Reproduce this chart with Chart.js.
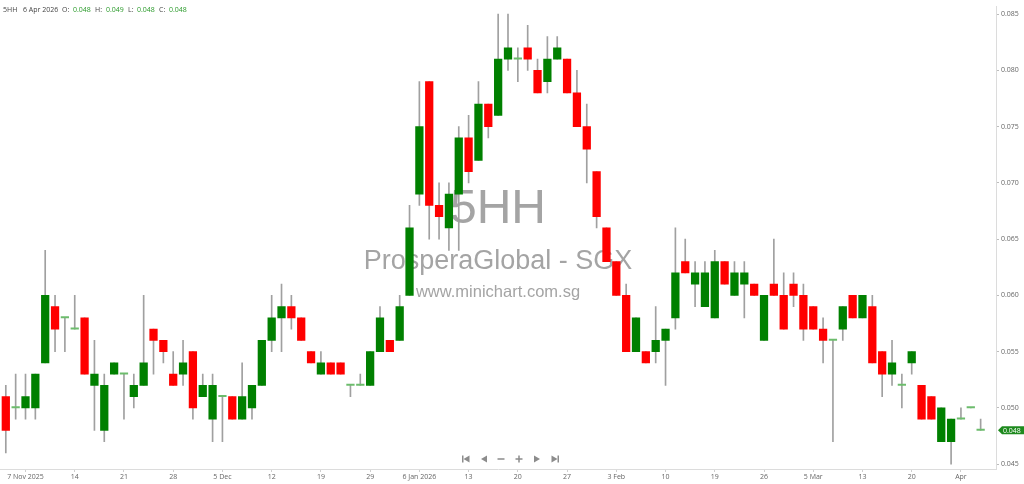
<!DOCTYPE html>
<html><head><meta charset="utf-8">
<script src="https://cdn.jsdelivr.net/npm/chart.js@4.4.1/dist/chart.umd.min.js"></script>
<style>html,body{margin:0;padding:0;background:#fff;overflow:hidden}canvas{display:block}</style>
</head><body>
<canvas id="c" width="1024" height="484"></canvas>
<script>
const symbol = "5HH";
const title = "ProsperaGlobal - SGX";
const site = "www.minichart.com.sg";
const lastDate = "6 Apr 2026";

const opens = [0.051,0.050,0.050,0.050,0.054,0.059,0.058,0.057,0.058,0.052,
0.048,0.053,0.053,0.051,0.052,0.057,0.056,0.053,0.053,0.055,
0.051,0.049,0.051,0.051,0.049,0.050,0.052,0.056,0.058,0.059,
0.058,0.055,0.053,0.054,0.054,0.052,0.052,0.052,0.055,0.056,
0.056,0.060,0.069,0.079,0.068,0.066,0.069,0.074,0.072,0.077,
0.076,0.081,0.081,0.082,0.080,0.079,0.081,0.081,0.078,0.075,
0.071,0.066,0.063,0.060,0.055,0.055,0.055,0.056,0.058,0.063,
0.061,0.059,0.058,0.063,0.060,0.061,0.061,0.056,0.061,0.060,
0.061,0.060,0.059,0.057,0.056,0.057,0.060,0.058,0.059,0.055,
0.053,0.052,0.054,0.052,0.051,0.047,0.047,0.049,0.050,0.048];
const highs = [0.052,0.053,0.053,0.053,0.064,0.060,0.058,0.060,0.058,0.056,
0.053,0.054,0.053,0.053,0.060,0.057,0.056,0.055,0.056,0.055,
0.053,0.053,0.051,0.051,0.054,0.052,0.056,0.060,0.061,0.060,
0.058,0.055,0.055,0.054,0.054,0.052,0.053,0.055,0.059,0.056,
0.060,0.068,0.079,0.079,0.070,0.070,0.075,0.076,0.079,0.077,
0.085,0.085,0.082,0.084,0.081,0.083,0.083,0.081,0.080,0.077,
0.071,0.066,0.063,0.061,0.058,0.055,0.059,0.057,0.066,0.065,
0.063,0.063,0.064,0.063,0.063,0.063,0.061,0.060,0.065,0.062,
0.062,0.061,0.059,0.058,0.056,0.059,0.060,0.060,0.060,0.055,
0.056,0.053,0.055,0.052,0.051,0.050,0.049,0.050,0.050,0.049];
const lows = [0.046,0.049,0.049,0.049,0.054,0.055,0.055,0.057,0.053,0.048,
0.047,0.053,0.049,0.050,0.052,0.053,0.054,0.052,0.052,0.049,
0.051,0.047,0.047,0.049,0.049,0.049,0.052,0.055,0.055,0.057,
0.056,0.054,0.053,0.053,0.053,0.051,0.052,0.052,0.055,0.055,
0.056,0.060,0.068,0.065,0.065,0.064,0.064,0.070,0.072,0.074,
0.076,0.080,0.079,0.080,0.078,0.078,0.081,0.078,0.075,0.070,
0.066,0.063,0.060,0.055,0.055,0.054,0.054,0.052,0.057,0.062,
0.059,0.059,0.058,0.061,0.060,0.058,0.060,0.056,0.060,0.057,
0.059,0.056,0.057,0.054,0.047,0.056,0.058,0.058,0.054,0.051,
0.052,0.050,0.053,0.049,0.049,0.047,0.045,0.049,0.050,0.048];
const closes = [0.048,0.050,0.051,0.053,0.060,0.057,0.058,0.057,0.053,0.053,
0.052,0.054,0.053,0.052,0.054,0.056,0.055,0.052,0.054,0.050,
0.052,0.052,0.051,0.049,0.051,0.052,0.056,0.058,0.059,0.058,
0.056,0.054,0.054,0.053,0.053,0.052,0.052,0.055,0.058,0.055,
0.059,0.066,0.075,0.068,0.067,0.069,0.074,0.071,0.077,0.075,
0.081,0.082,0.081,0.081,0.078,0.081,0.082,0.078,0.075,0.073,
0.067,0.063,0.060,0.055,0.058,0.054,0.056,0.057,0.062,0.062,
0.062,0.062,0.063,0.061,0.062,0.062,0.060,0.060,0.060,0.057,
0.060,0.057,0.057,0.056,0.056,0.059,0.058,0.060,0.054,0.053,
0.054,0.052,0.055,0.049,0.049,0.050,0.049,0.049,0.050,0.048];

const tickIndex = [2,7,12,17,22,27,32,37,42,47,52,57,62,67,72,77,82,87,92,97];
const tickLabels = ["7 Nov 2025","14","21","28","5 Dec","12","19","29","6 Jan 2026","13",
"20","27","3 Feb","10","19","26","5 Mar","13","20","Apr"];
const yTicks = [0.045,0.050,0.055,0.060,0.065,0.070,0.075,0.080,0.085];

const UP = '#008000', DOWN = '#ff0000', FLAT = '#6cbc6c', WICK = '#a0a0a0';
const candleColor = (i) => closes[i] > opens[i] ? UP : (closes[i] < opens[i] ? DOWN : FLAT);

const bodies = opens.map((o, i) => ({x: i, y: [o, closes[i]]}));
const wicks = opens.map((o, i) => ({x: i, y: [lows[i], highs[i]]}));

const FONT = '"Open Sans", "DejaVu Sans", sans-serif';

const decor = {
  id: 'decor',
  beforeDatasetsDraw(chart) {
    const {ctx, chartArea: a} = chart;
    const cx = (a.left + a.right) / 2, cy = (a.top + a.bottom) / 2;
    ctx.save();
    ctx.fillStyle = '#a4a4a4';
    ctx.textAlign = 'center';
    ctx.textBaseline = 'alphabetic';
    ctx.font = '48px "Liberation Sans", Arial, sans-serif';
    ctx.fillText(symbol, cx, cy - 14.5);
    ctx.font = '27px "Liberation Sans", Arial, sans-serif';
    ctx.fillText(title, cx, cy + 31.5);
    ctx.font = '16.5px "Liberation Sans", Arial, sans-serif';
    ctx.fillText(site, cx, cy + 59.5);
    // navigation icons
    ctx.fillStyle = '#8c8c8c';
    const ny = a.bottom - 10;
    const tri = (x, dir) => { ctx.beginPath(); ctx.moveTo(x - 3 * dir, ny); ctx.lineTo(x + 3 * dir, ny - 3.5); ctx.lineTo(x + 3 * dir, ny + 3.5); ctx.closePath(); ctx.fill(); };
    let x = cx - 32;
    ctx.fillRect(x - 4, ny - 3.5, 1.5, 7); tri(x + 0.5, 1);
    x = cx - 14; tri(x, 1);
    x = cx + 3; ctx.fillRect(x - 3.5, ny - 0.75, 7, 1.5);
    x = cx + 21; ctx.fillRect(x - 3.5, ny - 0.75, 7, 1.5); ctx.fillRect(x - 0.75, ny - 3.5, 1.5, 7);
    x = cx + 39; tri(x, -1);
    x = cx + 57; tri(x - 0.5, -1); ctx.fillRect(x + 2.5, ny - 3.5, 1.5, 7);
    ctx.restore();
  },
  afterDraw(chart) {
    const {ctx, chartArea: a, scales} = chart;
    const n = closes.length - 1;
    ctx.save();
    // header
    ctx.font = '7px ' + FONT;
    ctx.textBaseline = 'middle';
    ctx.textAlign = 'left';
    const parts = [
      [symbol, '#444', 3], [lastDate, '#444', 23], ['O:', '#444', 62], [opens[n].toFixed(3), '#2a9a2a', 73],
      ['H:', '#444', 95], [highs[n].toFixed(3), '#2a9a2a', 106], ['L:', '#444', 128], [lows[n].toFixed(3), '#2a9a2a', 137],
      ['C:', '#444', 159], [closes[n].toFixed(3), '#2a9a2a', 169]
    ];
    parts.forEach(([t, c, px]) => { ctx.fillStyle = c; ctx.fillText(t, px, 10); });
    // last price tag
    const y = scales.y.getPixelForValue(closes[n]);
    const x0 = a.right + 1;
    ctx.fillStyle = '#ffffff';
    ctx.fillRect(x0 + 1, y - 5, chart.width - x0, 10);
    ctx.fillStyle = '#1e8a1e';
    ctx.beginPath();
    ctx.moveTo(x0 + 1, y);
    ctx.lineTo(x0 + 5, y - 4);
    ctx.lineTo(chart.width, y - 4);
    ctx.lineTo(chart.width, y + 4);
    ctx.lineTo(x0 + 5, y + 4);
    ctx.closePath();
    ctx.fill();
    ctx.fillStyle = '#ffffff';
    ctx.fillText(closes[n].toFixed(3), x0 + 6, y + 0.5);
    ctx.restore();
  }
};

new Chart(document.getElementById('c'), {
  type: 'bar',
  data: {
    datasets: [
      {label: 'body', data: bodies, order: 1, grouped: false, barThickness: 7.6, minBarLength: 1.2,
       backgroundColor: (c) => candleColor(c.dataIndex), borderWidth: 0},
      {label: 'wick', data: wicks, order: 2, grouped: false, barThickness: 1,
       backgroundColor: WICK, borderWidth: 0}
    ]
  },
  options: {
    responsive: false,
    animation: false,
    layout: {padding: 0},
    plugins: {legend: {display: false}, tooltip: {enabled: false}},
    scales: {
      x: {
        type: 'linear', min: -0.59, max: 100.56, offset: false,
        afterBuildTicks: (s) => { s.ticks = tickIndex.map(v => ({value: v})); },
        afterFit: (s) => { s.height = 15; },
        grid: {display: true, offset: false, drawOnChartArea: false, drawTicks: true, tickLength: 3, color: '#cfcfcf'},
        border: {display: true, color: '#dcdcdc'},
        ticks: {autoSkip: false, maxRotation: 0, padding: 1, color: '#666', font: {family: FONT, size: 7},
          callback: (v) => { const k = tickIndex.indexOf(v); return k >= 0 ? tickLabels[k] : ''; }}
      },
      y: {
        position: 'right', min: 0.04456, max: 0.0857,
        afterBuildTicks: (s) => { s.ticks = yTicks.map(v => ({value: v})); },
        afterFit: (s) => { s.width = 28; },
        grid: {drawOnChartArea: false, drawTicks: true, tickLength: 3, color: '#bdbdbd'},
        border: {display: true, color: '#dcdcdc'},
        ticks: {padding: 2, color: '#666', font: {family: FONT, size: 7}, callback: (v) => Number(v).toFixed(3)}
      }
    }
  },
  plugins: [decor]
});
</script>
</body></html>
